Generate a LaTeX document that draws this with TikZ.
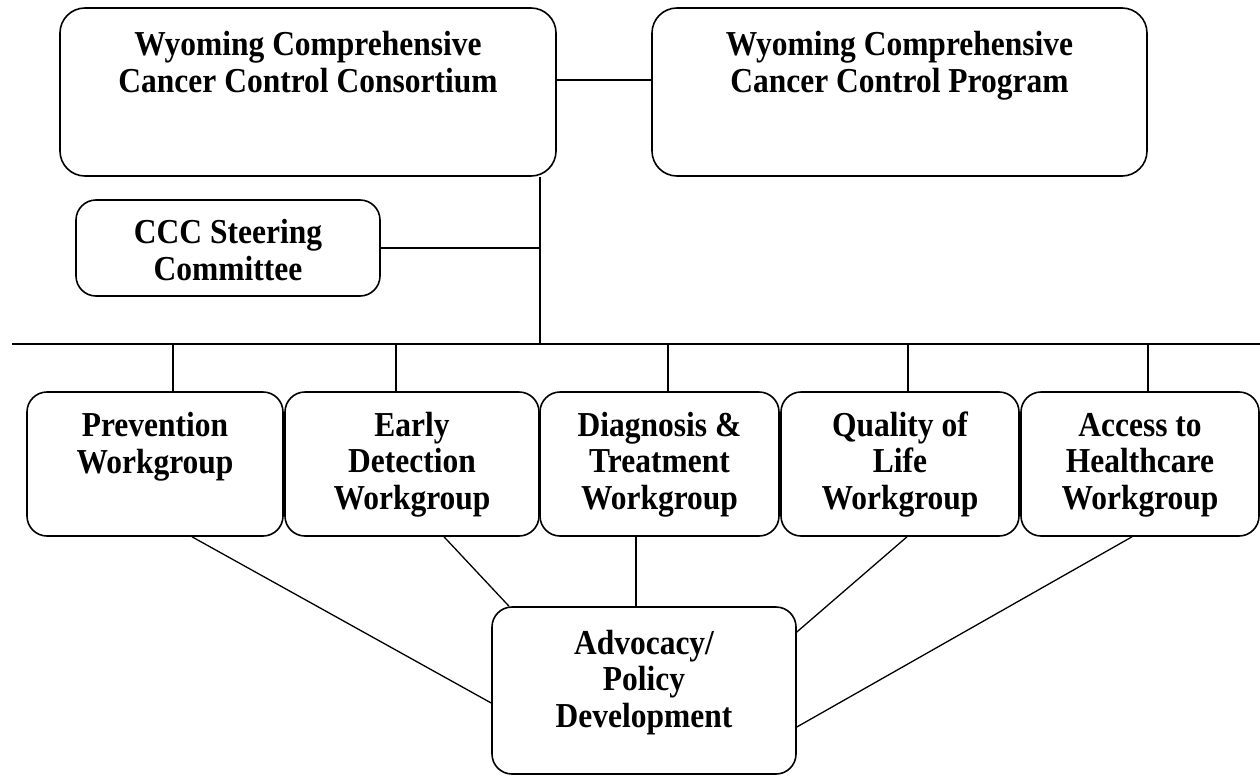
\documentclass[tikz,border=0pt]{standalone}
\usepackage{fontspec}
\setmainfont{Liberation Serif}[FakeStretch=0.9]
\begin{document}
\begin{tikzpicture}[x=1pt,y=-1pt,
  box/.style={draw,line width=1.6pt,rounded corners=20pt,inner sep=0pt},
  wgbox/.style={box,minimum height=144pt},
  lbl/.style={font=\fontsize{35}{36.5}\selectfont\bfseries,align=center,inner sep=0pt,anchor=base},
  link/.style={line width=1.3pt}]
\useasboundingbox (0,0) rectangle (1260,776);
% top level
\node[box,rounded corners=25pt,minimum width=496pt,minimum height=168pt] (wccc) at (308,92) {};
\node[lbl] (wccc-t) at ([yshift=-85pt]wccc.north) {Wyoming Comprehensive\\Cancer Control Consortium};
\node[box,rounded corners=25pt,minimum width=495pt,minimum height=168pt] (wccp) at (899.5,92) {};
\node[lbl] (wccp-t) at ([yshift=-85pt]wccp.north) {Wyoming Comprehensive\\Cancer Control Program};
\node[box,minimum width=304pt,minimum height=96pt] (steer) at (228,248) {};
\node[lbl] (steer-t) at ([yshift=-81pt]steer.north) {CCC Steering\\Committee};
% workgroups
\node[wgbox,minimum width=256pt] (prev) at (155,464) {};
\node[lbl] (prev-t) at ([yshift=-82pt]prev.north) {Prevention\\Workgroup};
\node[wgbox,minimum width=254pt] (early) at (412,464) {};
\node[lbl] (early-t) at ([yshift=-118pt]early.north) {Early\\Detection\\Workgroup};
\node[wgbox,minimum width=239pt] (diag) at (659.5,464) {};
\node[lbl] (diag-t) at ([yshift=-118pt]diag.north) {Diagnosis \&\\Treatment\\Workgroup};
\node[wgbox,minimum width=238pt] (qual) at (900,464) {};
\node[lbl] (qual-t) at ([yshift=-118pt]qual.north) {Quality of\\Life\\Workgroup};
\node[wgbox,minimum width=238pt] (access) at (1140,464) {};
\node[lbl] (access-t) at ([yshift=-118pt]access.north) {Access to\\Healthcare\\Workgroup};
\node[box,minimum width=304pt,minimum height=167pt] (adv) at (644,690.5) {};
\node[lbl] (adv-t) at ([yshift=-121pt]adv.north) {Advocacy/\\Policy\\Development};
% bus
\coordinate (busL) at (12,344);
\coordinate (busR) at (1260,344);
\coordinate (trunk) at ([xshift=232pt]wccc.south);
\draw[link] (busL) -- (busR);
\draw[link] ([yshift=12pt]wccc.east) -- ([yshift=12pt]wccc.east -| wccp.west);
\draw[link] (trunk) -- (trunk |- busL);
\draw[link] (steer.east) -- (steer.east -| trunk);
\draw[link] ([xshift=18pt]prev.north) -- ([xshift=18pt]prev.north |- busL);
\draw[link] ([xshift=-16pt]early.north) -- ([xshift=-16pt]early.north |- busL);
\draw[link] ([xshift=8.5pt]diag.north) -- ([xshift=8.5pt]diag.north |- busL);
\draw[link] ([xshift=8pt]qual.north) -- ([xshift=8pt]qual.north |- busL);
\draw[link] ([xshift=8pt]access.north) -- ([xshift=8pt]access.north |- busL);
% to advocacy
\draw[link] ([xshift=37pt]prev.south) -- ([yshift=-12.5pt]adv.west);
\draw[link] ([xshift=32pt]early.south) -- ([xshift=-135pt]adv.north);
\draw[link] ([xshift=-8pt]adv.north) -- ([xshift=-8pt]adv.north |- diag.south);
\draw[link] ([xshift=7pt]qual.south) -- ([yshift=58.5pt]adv.east);
\draw[link] ([xshift=-8pt]access.south) -- ([yshift=-36.5pt]adv.east);
\end{tikzpicture}
\end{document}
